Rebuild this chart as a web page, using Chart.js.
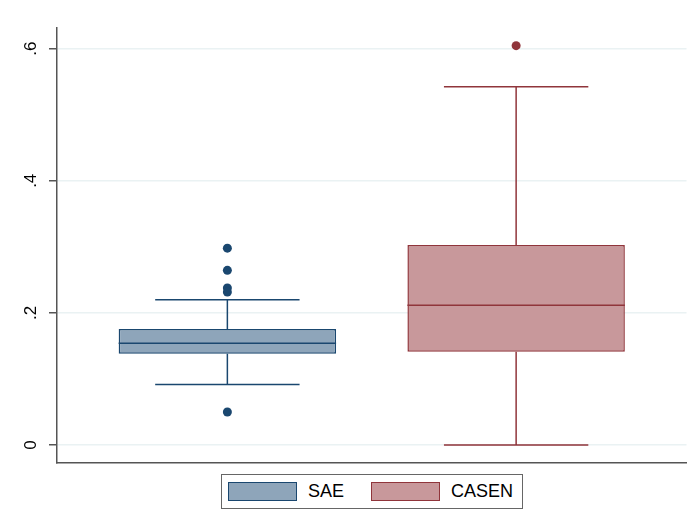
<!DOCTYPE html>
<html>
<head>
<meta charset="utf-8">
<script src="https://cdn.jsdelivr.net/npm/chart.js@4"></script>
<style>
  html, body { margin: 0; padding: 0; background: #ffffff; }
  #wrap { position: relative; width: 691px; height: 529px; }
  #legend {
    position: absolute; left: 221px; top: 474px; width: 302px; height: 35px;
    box-sizing: border-box; border: 1.5px solid #666666; background: #ffffff;
    display: flex; align-items: center; padding-left: 6px;
    font-family: "Liberation Sans", Arial, sans-serif; font-size: 18px; color: #000;
  }
  .swatch { width: 69px; height: 19px; box-sizing: border-box; border: 1.5px solid; flex: none; }
  .lab { margin-left: 11px; margin-right: 27px; white-space: nowrap; }
</style>
</head>
<body>
<div id="wrap">
  <canvas id="c" width="691" height="529"></canvas>
  <div id="legend"></div>
</div>
<script>
// Groups and their box-plot summaries
const GROUPS = ['SAE', 'CASEN'];
const POSITIONS = [1, 2];
const Q1 = [0.138, 0.141];
const MEDIAN = [0.154, 0.2114];
const Q3 = [0.1754, 0.3028];
const LOWER_WHISKER = [0.0916, 0.0];
const UPPER_WHISKER = [0.2199, 0.5424];
const OUTLIERS_SAE = [0.298, 0.2644, 0.2376, 0.2315, 0.050];
const OUTLIERS_CASEN = [0.6046];
const OUTLIERS = [OUTLIERS_SAE, OUTLIERS_CASEN];

// Axis ticks
const Y_TICKS = [0, 0.2, 0.4, 0.6];
const Y_TICK_LABELS = ['0', '.2', '.4', '.6'];

// Styling
const STROKE = ['#1a476f', '#90353b'];
const FILL = ['#8ea5ba', '#c8989b'];
const BOX_WIDTH = 0.753;   // in x units
const CAP_WIDTH = 0.5;     // in x units
const LINE_W = 1.5;

const datasets = [];

// boxes (Q1..Q3) as floating bars
datasets.push({
  type: 'bar',
  data: POSITIONS.map((x, i) => ({ x: x, y: [Q1[i], Q3[i]] })),
  backgroundColor: FILL,
  borderColor: STROKE,
  borderWidth: LINE_W,
  borderSkipped: false,
  categoryPercentage: 1,
  barPercentage: BOX_WIDTH,
  grouped: false,
  order: 3
});

// whiskers, caps and median lines
POSITIONS.forEach((x, i) => {
  const gap = { x: x, y: null };
  datasets.push({
    type: 'line',
    data: [
      { x: x, y: Q3[i] }, { x: x, y: UPPER_WHISKER[i] }, gap,
      { x: x - CAP_WIDTH / 2, y: UPPER_WHISKER[i] }, { x: x + CAP_WIDTH / 2, y: UPPER_WHISKER[i] }, gap,
      { x: x, y: Q1[i] }, { x: x, y: LOWER_WHISKER[i] }, gap,
      { x: x - CAP_WIDTH / 2, y: LOWER_WHISKER[i] }, { x: x + CAP_WIDTH / 2, y: LOWER_WHISKER[i] }, gap,
      { x: x - BOX_WIDTH / 2, y: MEDIAN[i] }, { x: x + BOX_WIDTH / 2, y: MEDIAN[i] }
    ],
    borderColor: STROKE[i],
    borderWidth: LINE_W,
    pointRadius: 0,
    spanGaps: false,
    fill: false,
    tension: 0,
    order: 2
  });
});

// outside values
POSITIONS.forEach((x, i) => {
  datasets.push({
    type: 'line',
    data: OUTLIERS[i].map(v => ({ x: x, y: v })),
    showLine: false,
    pointRadius: 4.5,
    pointBorderWidth: 0,
    pointBackgroundColor: STROKE[i],
    pointBorderColor: STROKE[i],
    order: 1
  });
});

new Chart(document.getElementById('c'), {
  type: 'bar',
  data: { datasets: datasets },
  options: {
    responsive: false,
    animation: false,
    devicePixelRatio: 1,
    layout: { padding: { left: 0, top: 28, right: 3, bottom: 66 } },
    plugins: { legend: { display: false }, tooltip: { enabled: false } },
    scales: {
      x: {
        type: 'linear',
        min: 0.41,
        max: 2.59,
        offset: false,
        afterBuildTicks: s => { s.ticks = POSITIONS.map(v => ({ value: v })); },
        grid: { display: false, drawTicks: false },
        ticks: { display: false },
        border: { display: true, color: '#555555', width: LINE_W },
        afterFit: s => { s.height = 0; }
      },
      y: {
        type: 'linear',
        min: -0.0273,
        max: 0.6313,
        afterBuildTicks: s => { s.ticks = Y_TICKS.map(v => ({ value: v })); },
        afterFit: s => { s.width = 57; },
        grid: {
          color: '#eaf2f3',
          lineWidth: 1.5,
          drawTicks: true,
          tickLength: 8,
          tickColor: '#555555',
          tickWidth: LINE_W
        },
        border: { display: true, color: '#555555', width: LINE_W },
        ticks: {
          minRotation: 90,
          maxRotation: 90,
          crossAlign: 'center',
          padding: 11,
          color: '#000000',
          font: { family: '"Liberation Sans", Arial, sans-serif', size: 17 },
          callback: v => {
            const k = Y_TICKS.findIndex(t => Math.abs(t - v) < 1e-9);
            return k >= 0 ? Y_TICK_LABELS[k] : '';
          }
        }
      }
    }
  }
});

// legend keys
const legend = document.getElementById('legend');
GROUPS.forEach((g, i) => {
  const sw = document.createElement('span');
  sw.className = 'swatch';
  sw.style.background = FILL[i];
  sw.style.borderColor = STROKE[i];
  const lb = document.createElement('span');
  lb.className = 'lab';
  lb.textContent = g;
  legend.appendChild(sw);
  legend.appendChild(lb);
});
</script>
</body>
</html>
